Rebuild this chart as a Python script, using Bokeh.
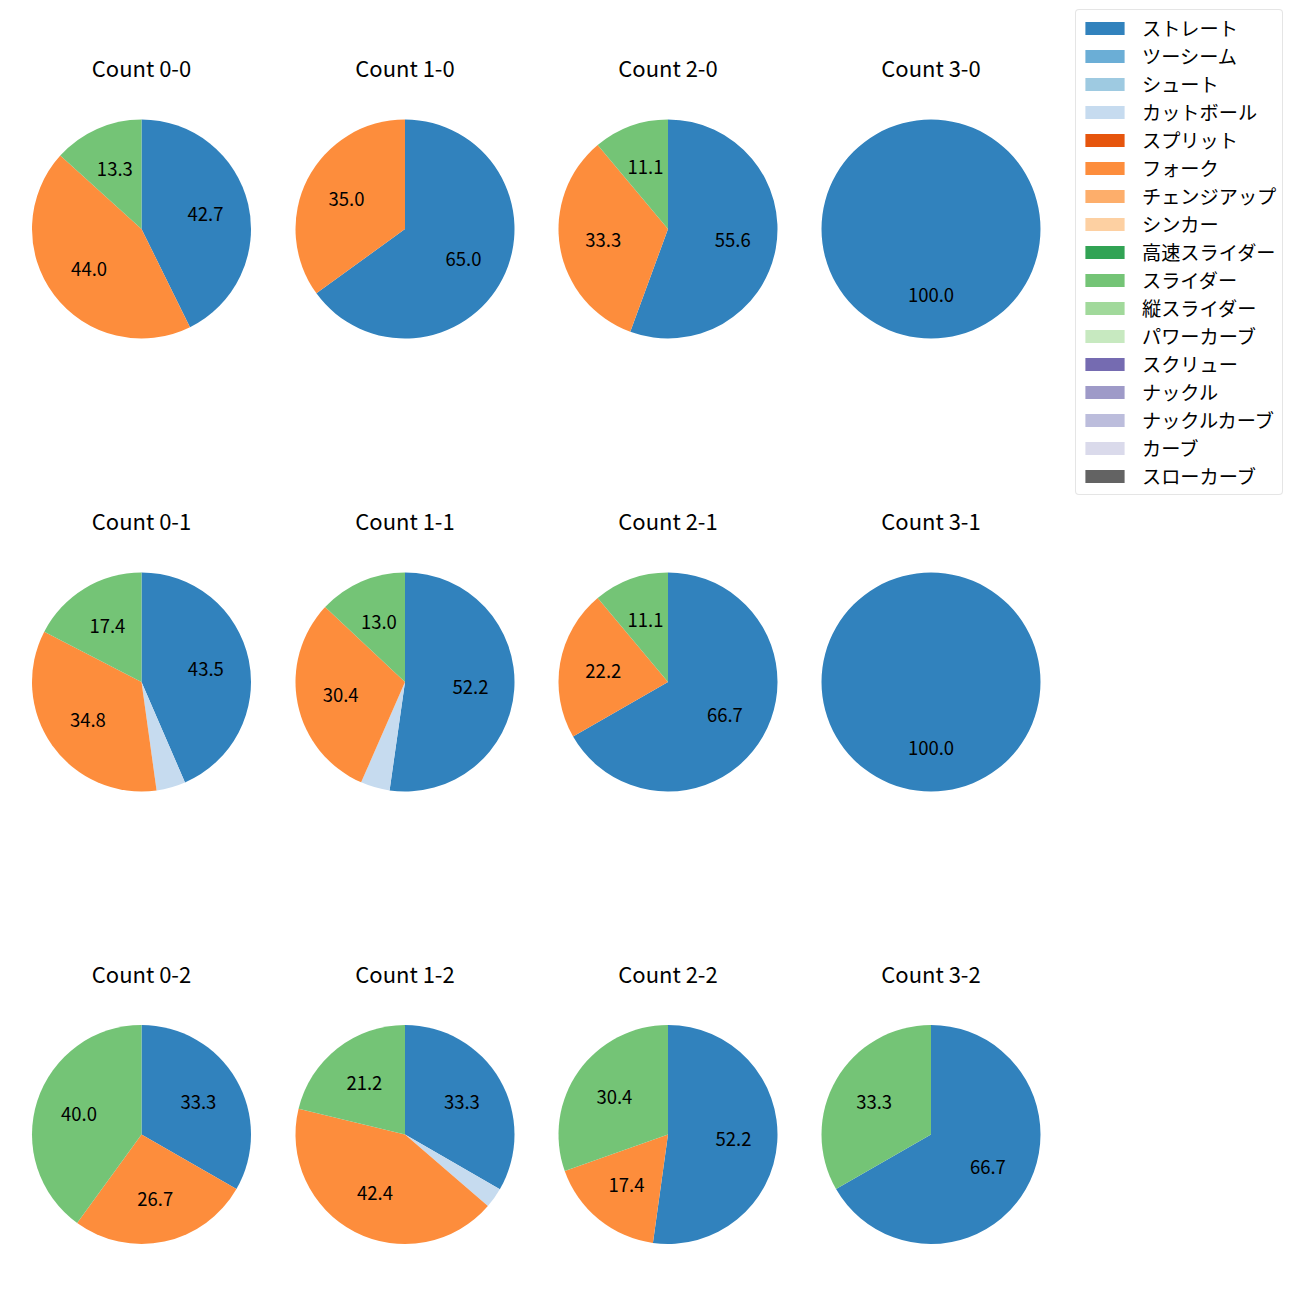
import math
from bokeh.plotting import figure
from bokeh.models import Range1d, ColumnDataSource, Legend, LegendItem
from bokeh.core.properties import value
from bokeh.embed import file_html
from bokeh.resources import INLINE

# ---------------- data ----------------
count_labels = ["0-0", "1-0", "2-0", "3-0",
                "0-1", "1-1", "2-1", "3-1",
                "0-2", "1-2", "2-2", "3-2"]

pitch_types = ["ストレート", "ツーシーム", "シュート", "カットボール", "スプリット",
               "フォーク", "チェンジアップ", "シンカー", "高速スライダー", "スライダー",
               "縦スライダー", "パワーカーブ", "スクリュー", "ナックル", "ナックルカーブ",
               "カーブ", "スローカーブ"]

pitch_colors = ["#3182bd", "#6baed6", "#9ecae1", "#c6dbef", "#e6550d",
                "#fd8d3c", "#fdae6b", "#fdd0a2", "#31a354", "#74c476",
                "#a1d99b", "#c7e9c0", "#756bb1", "#9e9ac8", "#bcbddc",
                "#dadaeb", "#636363"]

# percentage share of each pitch type, per count (order of count_labels)
straight = [42.7, 65.0, 55.6, 100.0, 43.5, 52.2, 66.7, 100.0, 33.3, 33.3, 52.2, 66.7]
cutter   = [0.0, 0.0, 0.0, 0.0, 4.3, 4.3, 0.0, 0.0, 0.0, 3.0, 0.0, 0.0]
fork     = [44.0, 35.0, 33.3, 0.0, 34.8, 30.4, 22.2, 0.0, 26.7, 42.4, 17.4, 0.0]
slider   = [13.3, 0.0, 11.1, 0.0, 17.4, 13.0, 11.1, 0.0, 40.0, 21.2, 30.4, 33.3]

shares = {"ストレート": straight, "カットボール": cutter, "フォーク": fork, "スライダー": slider}

# ---------------- layout (page pixels, y down) ----------------
W = H = 1284
col_x = [141.0, 404.5, 667.5, 930.5]
row_y = [228.5, 681.5, 1134.0]
R = 109.5
TITLE_DY = -162.0
LABEL_FRAC = 0.6
MIN_LABEL_PCT = 5.0
FONT = "Noto Sans CJK JP"
NAN = float("nan")


def to_y(py):
    return H - py


p = figure(width=W, height=H, output_backend="svg", toolbar_location=None,
           x_range=Range1d(0, W), y_range=Range1d(0, H),
           min_border=0, outline_line_color=None)
p.axis.visible = False
p.grid.visible = False
p.background_fill_color = "white"

wedge_data = {t: dict(x=[], y=[], start=[], end=[]) for t in pitch_types}
lab_x, lab_y, lab_t = [], [], []
tit_x, tit_y, tit_t = [], [], []

for i, cl in enumerate(count_labels):
    cx = col_x[i % 4]
    cy = row_y[i // 4]
    vals = [shares.get(t, [0.0] * 12)[i] for t in pitch_types]
    total = sum(vals)
    cum = 0.0
    for t, v in zip(pitch_types, vals):
        if v <= 0:
            continue
        a0 = 90.0 - 360.0 * cum / total
        cum += v
        a1 = 90.0 - 360.0 * cum / total
        if a0 - a1 >= 359.999:
            a1 = a0 - 359.999
        d = wedge_data[t]
        d["x"].append(cx)
        d["y"].append(to_y(cy))
        d["start"].append(math.radians(a1))
        d["end"].append(math.radians(a0))
        if v >= MIN_LABEL_PCT:
            am = math.radians((a0 + a1) / 2.0)
            lab_x.append(cx + LABEL_FRAC * R * math.cos(am))
            lab_y.append(to_y(cy) + LABEL_FRAC * R * math.sin(am))
            lab_t.append(f"{v:.1f}")
    tit_x.append(cx)
    tit_y.append(to_y(cy + TITLE_DY))
    tit_t.append(f"Count {cl}")

legend_items = []
for t, c in zip(pitch_types, pitch_colors):
    d = wedge_data[t]
    if d["x"]:
        p.wedge(x="x", y="y", radius=R, start_angle="start", end_angle="end",
                direction="anticlock", source=ColumnDataSource(d),
                fill_color=c, line_color=None)
    # legend proxy (not drawn in the plot area: NaN geometry)
    proxy = p.quad(left=[NAN], right=[NAN], top=[NAN], bottom=[NAN],
                   fill_color=c, line_color=None)
    legend_items.append(LegendItem(label=t, renderers=[proxy]))

p.text(x=lab_x, y=lab_y, text=lab_t, text_align="center", text_baseline="middle",
       text_font=value(FONT), text_font_size="18.5px", text_color="black")
p.text(x=tit_x, y=tit_y, text=tit_t, text_align="center", text_baseline="middle",
       text_font=value(FONT), text_font_size="22px", text_color="black")

legend = Legend(items=legend_items, location=(1075, 789),
                glyph_width=49, glyph_height=16, label_standoff=13,
                label_text_font=FONT, label_text_font_size="19.2px",
                label_text_color="black", label_height=20, label_width=136,
                spacing=0, padding=4, margin=0,
                border_line_color="#cccccc", border_line_width=1,
                background_fill_color="white", background_fill_alpha=0.8)
try:
    legend.border_radius = 4
except Exception:
    pass
p.add_layout(legend, "center")

open("out.html", "w").write(file_html(p, INLINE))
